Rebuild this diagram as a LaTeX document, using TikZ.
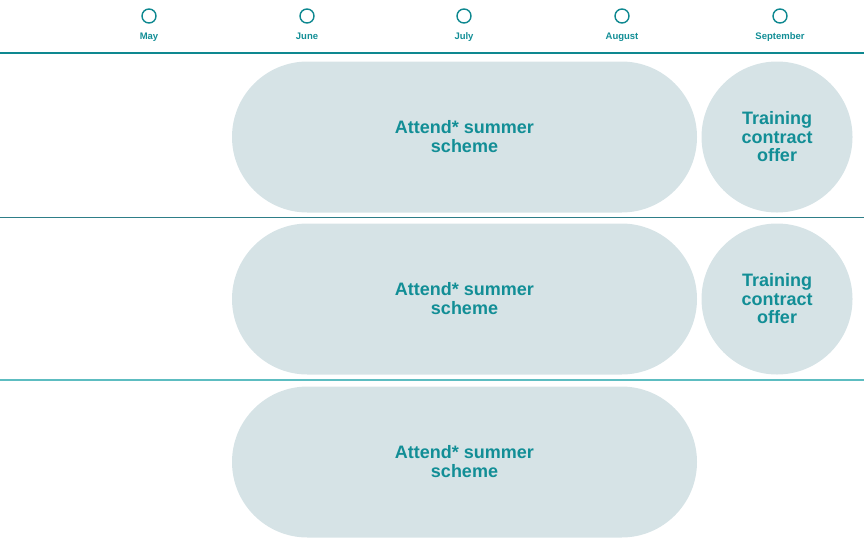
\documentclass[tikz,border=0pt]{standalone}
\usepackage{fontspec}
\setmainfont{Liberation Sans}
\definecolor{tealline}{HTML}{0E8890}
\definecolor{tealtext}{HTML}{128E96}
\definecolor{sepdark}{HTML}{2E7E88}
\definecolor{seplight}{HTML}{5DBDC1}
\definecolor{pillfill}{HTML}{D6E3E6}

\begin{document}
\begin{tikzpicture}[x=1pt,y=-1pt,
	month/.style = {circle, draw=tealline, line width=1.4pt, minimum size=14pt, inner sep=0pt},
	monthtext/.style = {anchor=base, text=tealtext, font=\bfseries\fontsize{9.5}{11}\selectfont},
	pill/.style = {fill=pillfill, rounded corners=75.5pt, minimum width=465pt, minimum height=151pt, align=center, text=tealtext, font=\bfseries\fontsize{18}{19}\selectfont},
	offer/.style = {circle, fill=pillfill, minimum size=151pt, inner sep=0pt, align=center, text=tealtext, font=\bfseries\fontsize{18}{18.5}\selectfont}]
	\useasboundingbox (0,0) rectangle (864,539);
	% months
	\begin{scope}[every node/.style={month}]
		\node (may) at (149,16) {};
		\node (jun) at (307,16) {};
		\node (jul) at (464,16) {};
		\node (aug) at (622,16) {};
		\node (sep) at (780,16) {};
	\end{scope}
	\begin{scope}[every node/.style={monthtext}]
		\node (mayl) at (149,39) {May};
		\node (junl) at (307,39) {June};
		\node (jull) at (464,39) {July};
		\node (augl) at (622,39) {August};
		\node (sepl) at (780,39) {September};
	\end{scope}
	\coordinate (topl) at (0,53);
	\coordinate (topr) at (864,53);
	\coordinate (midl) at (0,217);
	\coordinate (midr) at (864,217);
	\coordinate (lowl) at (0,380);
	\coordinate (lowr) at (864,380);
	\draw [tealline, line width=2.4pt] (topl) -- (topr);
	\draw [sepdark, line width=0.9pt] (midl) -- (midr);
	\draw [seplight, line width=1.4pt] (lowl) -- (lowr);
	% rows
	\node[pill] (scheme1) at (464.5,137) {Attend* summer\\scheme};
	\node[pill] (scheme2) at (464.5,299) {Attend* summer\\scheme};
	\node[pill] (scheme3) at (464.5,462) {Attend* summer\\scheme};
	\node[offer] (offer1) at (777,137) {Training\\contract\\offer};
	\node[offer] (offer2) at (777,299) {Training\\contract\\offer};
\end{tikzpicture}
\end{document}
